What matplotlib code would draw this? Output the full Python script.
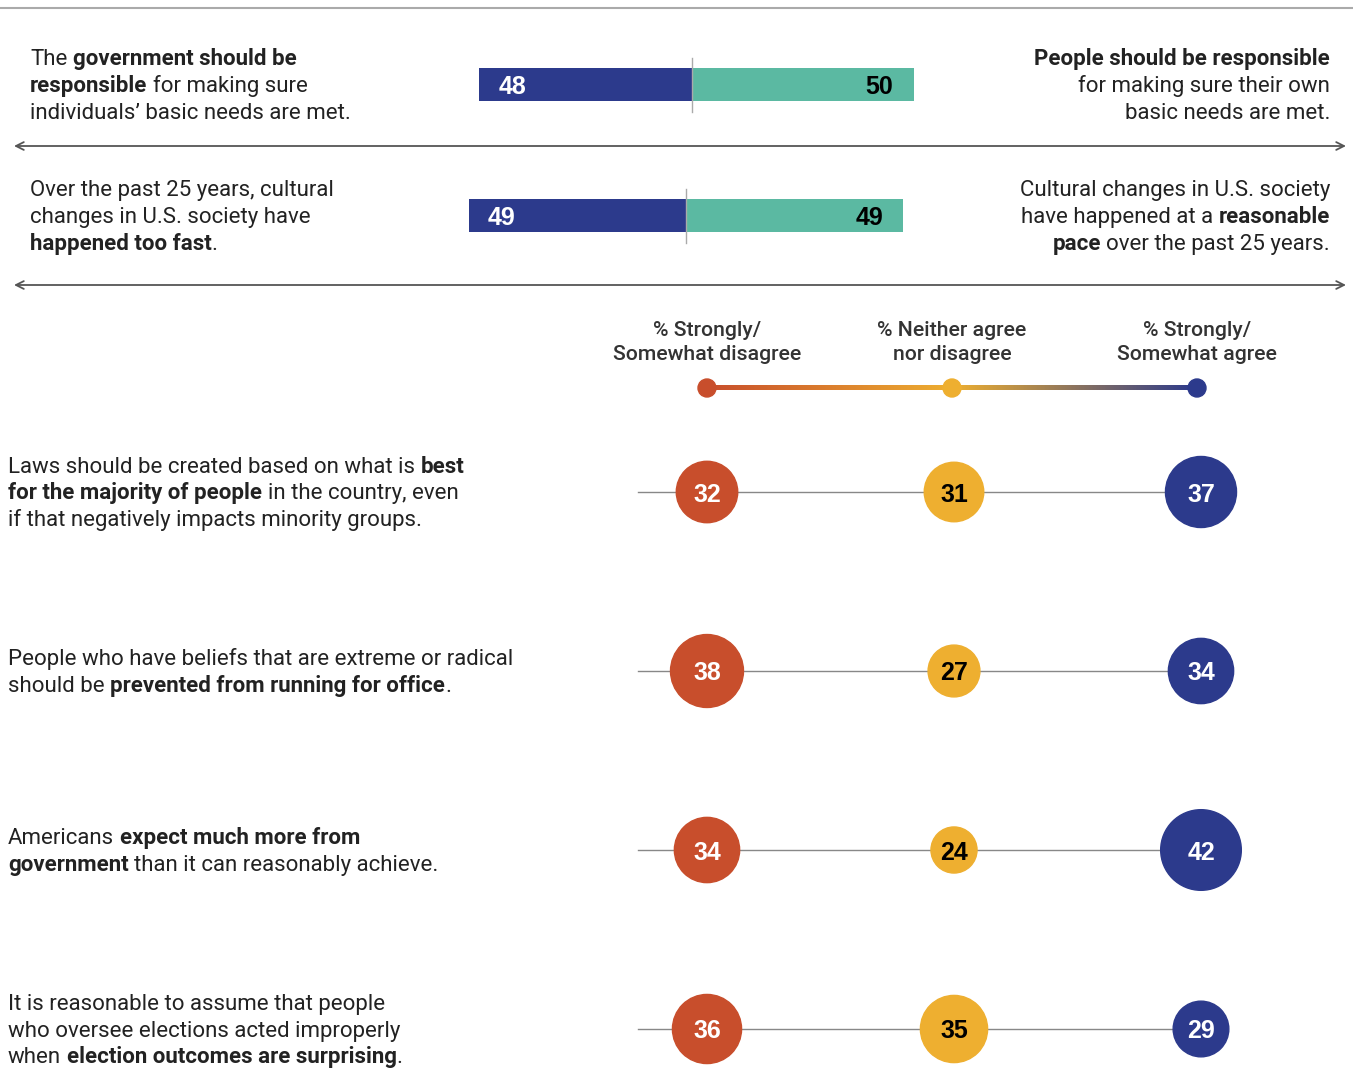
import matplotlib
matplotlib.use('Agg')
import matplotlib.pyplot as plt
import numpy as np
from matplotlib.patches import Circle
from matplotlib.colors import LinearSegmentedColormap

W, H = 1353, 1070
RED = '#C84E2C'
YEL = '#EEAF30'
NAVY = '#2C3A8C'
GREEN = '#5BB9A2'
FONT = 'Roboto'
NUMFONT = 'Liberation Sans'

# top: two diverging bars
bar_left = [48, 49]
bar_right = [50, 49]
bar_left_text = [
    [[('The ', 0), ('government should be', 1)],
     [('responsible', 1), (' for making sure', 0)],
     [('individuals’ basic needs are met.', 0)]],
    [[('Over the past 25 years, cultural', 0)],
     [('changes in U.S. society have', 0)],
     [('happened too fast', 1), ('.', 0)]],
]
bar_right_text = [
    [[('People should be responsible', 1)],
     [('for making sure their own', 0)],
     [('basic needs are met.', 0)]],
    [[('Cultural changes in U.S. society', 0)],
     [('have happened at a ', 0), ('reasonable', 1)],
     [('pace', 1), (' over the past 25 years.', 0)]],
]

# bottom: disagree / neither / agree
columns = [['% Strongly/', 'Somewhat disagree'],
           ['% Neither agree', 'nor disagree'],
           ['% Strongly/', 'Somewhat agree']]
disagree = [32, 38, 34, 36]
neither = [31, 27, 24, 35]
agree = [37, 34, 42, 29]
statements = [
    [[('Laws should be created based on what is ', 0), ('best', 1)],
     [('for the majority of people', 1), (' in the country, even', 0)],
     [('if that negatively impacts minority groups.', 0)]],
    [[('People who have beliefs that are extreme or radical', 0)],
     [('should be ', 0), ('prevented from running for office', 1), ('.', 0)]],
    [[('Americans ', 0), ('expect much more from', 1)],
     [('government', 1), (' than it can reasonably achieve.', 0)]],
    [[('It is reasonable to assume that people', 0)],
     [('who oversee elections acted improperly', 0)],
     [('when ', 0), ('election outcomes are surprising', 1), ('.', 0)]],
]

# layout (pixels)
bar_y = [84.5, 215.5]
bar_center = [692, 686]
px_per_pt = 4.43
row_y = [492, 671, 850, 1029]
col_x = [707, 954, 1201]
legend_x = [707, 952, 1197]
rad_k = 0.96
LH = 26.8
TS = 16

fig = plt.figure(figsize=(W / 100, H / 100), dpi=100)
ax = fig.add_axes([0, 0, 1, 1])
ax.axis('off')
fig.canvas.draw()
renderer = fig.canvas.get_renderer()

_cache = {}


def text_w(s, bold):
    key = (s, bold)
    if key not in _cache:
        t = ax.text(0, 0, s, fontsize=TS, family=FONT,
                    fontweight='bold' if bold else 'normal')
        _cache[key] = t.get_window_extent(renderer).width
        t.remove()
    return _cache[key]


def seg_w(s, bold):
    sp = text_w('a a', bold) - text_w('aa', bold)
    core = s.strip()
    lead = len(s) - len(s.lstrip())
    trail = len(s) - len(s.rstrip())
    w = text_w(core, bold) if core else 0
    return lead * sp, w + (lead + trail) * sp


def rich(x, yc, lines, ha='left'):
    n = len(lines)
    for i, line in enumerate(lines):
        yb = yc + (i - (n - 1) / 2) * LH + 7.5
        parts = [seg_w(s, b) for s, b in line]
        total = sum(p[1] for p in parts)
        cx = x if ha == 'left' else x - total
        for (s, b), (lead, w) in zip(line, parts):
            ax.text(cx + lead, yb, s.strip(), fontsize=TS, family=FONT,
                    fontweight='bold' if b else 'normal', color='#222',
                    va='baseline', ha='left')
            cx += w


# top rule
ax.plot([0, W], [8, 8], color='#AAAAAA', lw=1.5)

# diverging bars
for i in range(2):
    y = bar_y[i]
    lw_ = bar_left[i] * px_per_pt
    rw_ = bar_right[i] * px_per_pt
    ax.barh(y, lw_, left=bar_center[i] - lw_, height=33, color=NAVY)
    ax.barh(y, rw_, left=bar_center[i], height=33, color=GREEN)
    ax.plot([bar_center[i], bar_center[i]], [y - 27, y + 27], color='#AAAAAA', lw=1)
    ax.text(bar_center[i] - lw_ + 19, y, str(bar_left[i]), color='white', fontsize=18,
            family=NUMFONT, fontweight='bold', va='center_baseline', ha='left')
    ax.text(bar_center[i] + rw_ - 20, y, str(bar_right[i]), color='black', fontsize=18,
            family=NUMFONT, fontweight='bold', va='center_baseline', ha='right')
    rich(30, y, bar_left_text[i], 'left')
    rich(1330, y, bar_right_text[i], 'right')

for ya in [146, 285]:
    ax.annotate('', xy=(1346, ya), xytext=(14, ya),
                arrowprops=dict(arrowstyle='<->', color='#555555', lw=1.3,
                                mutation_scale=14, shrinkA=0, shrinkB=0))

# legend
for x, lab in zip(legend_x, columns):
    ax.text(x, 335.5, lab[0], fontsize=15.3, family=FONT, fontweight='medium',
            color='#333333', ha='center', va='baseline')
    ax.text(x, 360.5, lab[1], fontsize=15.3, family=FONT, fontweight='medium',
            color='#333333', ha='center', va='baseline')
cmap = LinearSegmentedColormap.from_list('g', [RED, YEL, NAVY])
grad = np.linspace(0, 1, 400).reshape(1, -1)
ax.imshow(grad, cmap=cmap, aspect='auto', interpolation='bilinear',
          extent=(legend_x[0], legend_x[2], 390.5, 385.5), zorder=2)
for x, c in zip(legend_x, [RED, YEL, NAVY]):
    ax.add_patch(Circle((x, 388), 9, color=c, zorder=3))

# rows
for i in range(len(row_y)):
    y = row_y[i]
    ax.plot([638, col_x[2]], [y, y], color='#888888', lw=1, zorder=1)
    vals = [disagree[i], neither[i], agree[i]]
    for x, v, c, tc in zip(col_x, vals, [RED, YEL, NAVY], ['white', 'black', 'white']):
        ax.add_patch(Circle((x, y), v * rad_k, color=c, zorder=2))
        ax.text(x, y, str(v), color=tc, fontsize=18, family=NUMFONT,
                fontweight='bold', ha='center', va='center_baseline', zorder=3)
    rich(8, y, statements[i], 'left')

ax.set_xlim(0, W)
ax.set_ylim(H, 0)
fig.savefig('out.png', dpi=100)
